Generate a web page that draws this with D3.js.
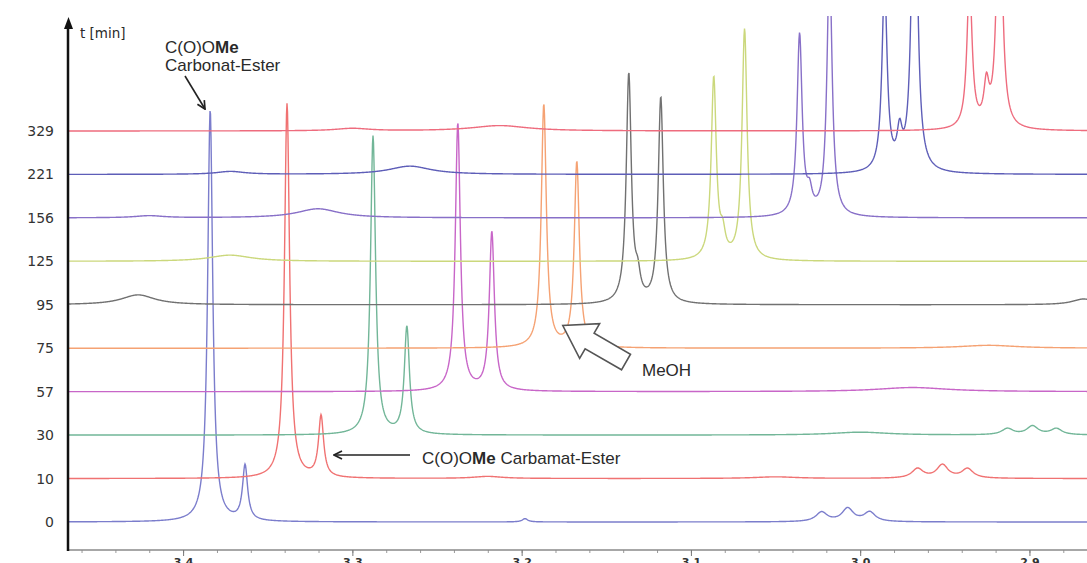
<!DOCTYPE html>
<html>
  <head>
    <meta charset="UTF-8" />
    <style>
      body {
        margin: 0;
        background: #fff;
      }
      svg {
        display: block;
      }
      .ylab {
        font-family: "DejaVu Sans", sans-serif;
        font-size: 14px;
        fill: #333;
      }
      .note {
        font-family: "Liberation Sans", Arial, sans-serif;
        font-size: 17px;
        fill: #2a2a2a;
      }
    </style>
  </head>
  <body>
    <svg></svg>

    <script src="https://d3js.org/d3.v7.min.js"></script>

    <script>
      let width = 1087,
        height = 563;

      // reaction times (one spectrum each, bottom to top)
      const times = ["0", "10", "30", "57", "75", "95", "125", "156", "221", "329"];

      // ppm tick labels on the bottom axis
      const ppmTicks = [3.4, 3.3, 3.2, 3.1, 3.0, 2.9];

      // peak lists: [ppm, intensity, half width (ppm)]
      const peaks0 = [[3.384, 100, 0.0018], [3.3634, 13.3, 0.0018], [3.198, 0.8, 0.002],
        [3.0228, 2.3, 0.004], [3.0074, 3.2, 0.004], [2.9944, 2.3, 0.004]];
      const peaks10 = [[3.3386, 91, 0.0018], [3.3185, 14.8, 0.0018], [3.22, 0.5, 0.01],
        [3.05, 0.4, 0.015], [2.9661, 2.3, 0.004], [2.9514, 3.2, 0.004], [2.9366, 2.3, 0.004]];
      const peaks30 = [[3.2878, 72.5, 0.0018], [3.2678, 26, 0.0018], [3.0, 0.7, 0.02],
        [2.913, 1.5, 0.004], [2.8982, 2.1, 0.004], [2.8841, 1.5, 0.004]];
      const peaks57 = [[3.2377, 65, 0.0018], [3.2176, 38.5, 0.0018], [2.969, 1.0, 0.025]];
      const peaks75 = [[3.1869, 59, 0.0018], [3.1674, 45, 0.0018], [2.924, 0.7, 0.02]];
      const peaks95 = [[3.4266, 2.4, 0.012], [3.1367, 55.5, 0.0018], [3.1314, 5, 0.0018],
        [3.1178, 50, 0.0018], [2.868, 1.4, 0.008]];
      const peaks125 = [[3.3723, 1.5, 0.015], [3.0865, 44, 0.0018], [3.0812, 5, 0.0018],
        [3.0683, 56, 0.0018]];
      const peaks156 = [[3.42, 0.5, 0.01], [3.3203, 2.2, 0.015], [3.0358, 44, 0.0018],
        [3.0299, 4.5, 0.0018], [3.0181, 62, 0.0018]];
      const peaks221 = [[3.372, 0.7, 0.01], [3.266, 2.0, 0.015], [2.9856, 46, 0.0018],
        [2.9767, 8, 0.0018], [2.9679, 95, 0.0018]];
      const peaks329 = [[3.3, 0.6, 0.012], [3.2129, 1.3, 0.02], [2.9354, 36, 0.0018],
        [2.9254, 9.5, 0.0018], [2.9177, 70, 0.0018]];

      const allPeaks = [peaks0, peaks10, peaks30, peaks57, peaks75, peaks95,
        peaks125, peaks156, peaks221, peaks329];

      const colors = ["#7b7dcc", "#f07272", "#72b698", "#c866c8", "#f5a273",
        "#717171", "#cbd87c", "#8870c8", "#5e5eb8", "#ee6c7e"];

      let svg = d3.select("svg").attr("width", width).attr("height", height);

      let x = d3.scaleLinear().domain([3.468, 2.866]).range([68, 1087]);
      let y = d3.scalePoint().domain(times).range([522, 131]);
      let amp = d3.scaleLinear().domain([0, 100]).range([0, 412]);

      svg
        .append("defs")
        .append("clipPath")
        .attr("id", "plot")
        .append("rect")
        .attr("x", 69)
        .attr("y", 16)
        .attr("width", width - 69)
        .attr("height", 534);

      // sum of lorentzian lines for one spectrum
      function spectrum(peaks) {
        let pts = [];
        for (let px = 68; px <= width; px += 0.5) {
          let ppm = x.invert(px);
          let v = 0;
          peaks.forEach(function (p) {
            let d = (ppm - p[0]) / p[2];
            v += p[1] / (1 + d * d);
          });
          pts.push([ppm, v]);
        }
        return pts;
      }

      let g = svg.append("g").attr("clip-path", "url(#plot)");

      times.forEach(function (t, i) {
        let line = d3
          .line()
          .x((d) => x(d[0]))
          .y((d) => y(t) - amp(d[1]));
        g.append("path")
          .attr("d", line(spectrum(allPeaks[i])))
          .attr("fill", "none")
          .attr("stroke", colors[i])
          .attr("stroke-width", 1.4);
      });

      // bottom axis
      let minor = d3.range(3.46, 2.86, -0.02).map((v) => +v.toFixed(2));
      let xAxis = svg.append("g").attr("transform", "translate(0,550)");
      xAxis
        .call(d3.axisBottom(x).tickValues(minor).tickSize(3).tickFormat(""))
        .call((a) => a.select(".domain").remove());
      xAxis.selectAll("line").attr("stroke", "#999");
      xAxis
        .append("line")
        .attr("x1", 68)
        .attr("x2", width)
        .attr("stroke", "#8a8a8a")
        .attr("stroke-width", 1.5);
      let major = svg
        .append("g")
        .attr("transform", "translate(0,550)")
        .call(d3.axisBottom(x).tickValues(ppmTicks).tickSize(6).tickFormat(d3.format(".1f")));
      major.select(".domain").remove();
      major.selectAll("line").attr("stroke", "#777");
      major
        .selectAll("text")
        .attr("y", 8)
        .attr("dy", "0.71em")
        .style("font-family", "DejaVu Sans, sans-serif")
        .style("font-size", "11px")
        .style("font-weight", "bold")
        .attr("fill", "#333");

      // left axis with arrow
      svg
        .append("line")
        .attr("x1", 68)
        .attr("x2", 68)
        .attr("y1", 551)
        .attr("y2", 26)
        .attr("stroke", "#111")
        .attr("stroke-width", 2.5);
      svg
        .append("path")
        .attr("d", "M68.5,17 L73,29 L64,29 Z")
        .attr("fill", "#111");
      svg
        .append("text")
        .attr("x", 80)
        .attr("y", 38)
        .style("font-family", "DejaVu Sans, sans-serif")
        .style("font-size", "13.5px")
        .attr("fill", "#2a2a2a")
        .text("t [min]");

      svg
        .append("g")
        .selectAll("text")
        .data(times)
        .enter()
        .append("text")
        .attr("class", "ylab")
        .attr("x", 54)
        .attr("y", (d) => y(d))
        .attr("dy", "0.36em")
        .attr("text-anchor", "end")
        .text((d) => d);

      // annotations
      svg
        .append("defs")
        .append("marker")
        .attr("id", "head")
        .attr("viewBox", "0 0 10 10")
        .attr("refX", 9)
        .attr("refY", 5)
        .attr("markerWidth", 10)
        .attr("markerHeight", 10)
        .attr("markerUnits", "userSpaceOnUse")
        .attr("orient", "auto")
        .append("path")
        .attr("d", "M1,1 L9,5 L1,9")
        .attr("fill", "none")
        .attr("stroke", "#222")
        .attr("stroke-width", 1.7);

      let t1 = svg.append("text").attr("class", "note").attr("x", 165).attr("y", 53);
      t1.append("tspan").text("C(O)O");
      t1.append("tspan").attr("font-weight", "bold").text("Me");
      svg
        .append("text")
        .attr("class", "note")
        .attr("x", 165)
        .attr("y", 71)
        .text("Carbonat-Ester");
      svg
        .append("line")
        .attr("x1", 185)
        .attr("y1", 76)
        .attr("x2", 205)
        .attr("y2", 109)
        .attr("stroke", "#222")
        .attr("stroke-width", 1.6)
        .attr("marker-end", "url(#head)");

      svg
        .append("line")
        .attr("x1", 410)
        .attr("y1", 455)
        .attr("x2", 334)
        .attr("y2", 455)
        .attr("stroke", "#222")
        .attr("stroke-width", 1.6)
        .attr("marker-end", "url(#head)");
      let t2 = svg.append("text").attr("class", "note").attr("x", 422).attr("y", 464);
      t2.append("tspan").text("C(O)O");
      t2.append("tspan").attr("font-weight", "bold").text("Me");
      t2.append("tspan").text(" Carbamat-Ester");

      // hollow block arrow pointing at the MeOH signal
      svg
        .append("path")
        .attr("d", "M0,-9 L42,-9 L42,-20 L73,0 L42,20 L42,9 L0,9 Z")
        .attr("transform", "translate(626,362) rotate(210)")
        .attr("fill", "#fff")
        .attr("stroke", "#555")
        .attr("stroke-width", 1.6);
      svg
        .append("text")
        .attr("class", "note")
        .attr("x", 642)
        .attr("y", 376)
        .text("MeOH");
    </script>
  </body>
</html>
